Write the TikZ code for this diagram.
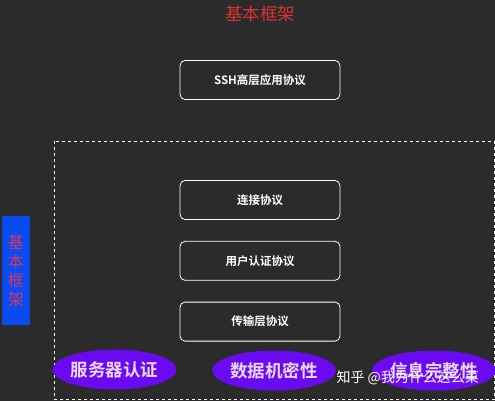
\documentclass[tikz,border=0pt]{standalone}
\usepackage{fontspec}
\newfontfamily\cjk{Noto Sans CJK SC}[BoldFont={Noto Sans CJK SC Bold}]
\usetikzlibrary{positioning, shapes.geometric}
\definecolor{bgcolor}{RGB}{43, 43, 43}
\definecolor{titlecolor}{RGB}{220, 50, 50}
\definecolor{sidecolor}{RGB}{10, 75, 240}
\definecolor{sidetext}{RGB}{215, 55, 100}
\definecolor{ovalcolor}{RGB}{105, 10, 240}
\definecolor{ovaltext}{RGB}{235, 215, 255}

\begin{document}
\begin{tikzpicture}[
    x=1pt, y=-1pt,
    node distance=21pt,
    proto/.style={rectangle, rounded corners=5pt, draw=white, line width=0.8pt, fill=bgcolor,
        minimum width=160pt, minimum height=39pt, text=white, font=\cjk\bfseries\fontsize{11.5}{13}\selectfont},
    oval/.style={ellipse, fill=ovalcolor, minimum width=119pt, minimum height=40pt, inner sep=0pt,
        text=ovaltext, font=\cjk\bfseries\fontsize{17.5}{20}\selectfont},
    frame/.style={draw=white, dashed, line width=0.8pt},
]

% Background
\fill[bgcolor] (0,0) rectangle (495,401);
\useasboundingbox (0,0) rectangle (495,401);

% Title
\node[text=titlecolor, font=\cjk\fontsize{17.5}{20}\selectfont] (title) at (260,14) {基本框架};

% Upper protocol
\node[proto] (ssh) at (260,80) {SSH高层应用协议};

% Frame
\draw[frame] (54.5,141) rectangle (494,399.5);

% Protocol stack
\node[proto] (conn) at (260,200) {连接协议};
\node[proto, below=of conn] (auth) {用户认证协议};
\node[proto, below=of auth] (trans) {传输层协议};

% Side label
\node[fill=sidecolor, minimum width=28pt, minimum height=109pt, inner sep=0pt, align=center,
    text=sidetext, font=\cjk\fontsize{16}{19}\selectfont] (side) at (16,270.5) {基\\本\\框\\架};

% Properties
\node[oval] (server) at (114.5,369.5) {服务器认证};
\node[oval] (secret) at (274,370.5) {数据机密性};
\node[oval] (integrity) at (434,370.5) {信息完整性};

% Watermark
\node[text=white, font=\cjk\fontsize{14}{16}\selectfont, anchor=west] (mark) at (333,378) {知乎 @我为什么这么菜};

\end{tikzpicture}
\end{document}
